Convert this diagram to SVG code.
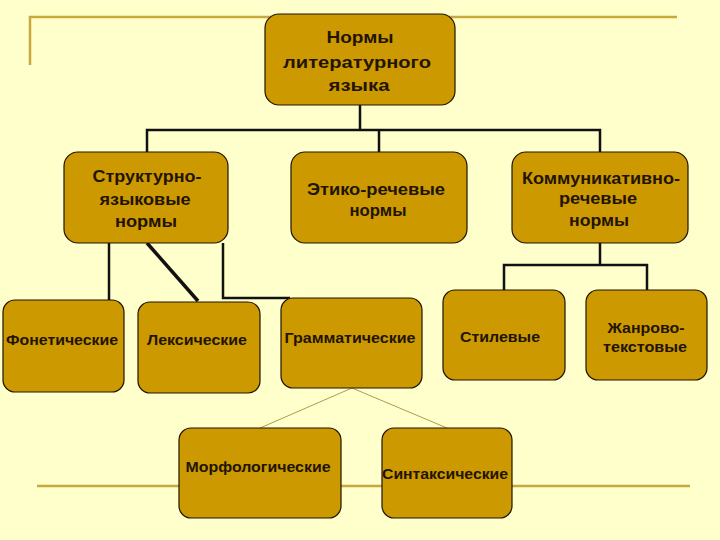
<svg xmlns="http://www.w3.org/2000/svg" width="720" height="540" viewBox="0 0 720 540">
<style>
.bg{fill:#FFFFCC}
.deco{stroke:#C9A93E;stroke-width:2.5;fill:none}
.box{fill:#CC9900;stroke:#1E1400;stroke-width:1.2}
.c{stroke:#111;stroke-width:2.5;fill:none}
.thin{stroke:#B09A50;stroke-width:1;fill:none}
text{font-family:"Liberation Sans",Arial,sans-serif;font-weight:bold;fill:#221400;text-anchor:middle}
.t16{font-size:16px}
.t15{font-size:15px}
</style>
<rect class="bg" x="0" y="0" width="720" height="540"/>
<g id="decor">
<path class="deco" d="M30,65 V17 H677"/>
<path class="deco" d="M37,486 H690"/>
</g>
<g id="connectors">
<path class="c" d="M360,105 V130 M147,152 V130 H600 V152 M379,130 V152"/>
<path class="c" d="M109,243 V301"/>
<path class="c" d="M147,243 L198,301" style="stroke-width:3.5"/>
<path class="c" d="M223,243 V298 H290"/>
<path class="c" d="M600,243 V265 M504,290 V265 H647 V290"/>
<path class="thin" d="M260,428 L352,388 L447,428"/>
</g>
<g id="n-root">
<rect class="box" x="265" y="14" width="190" height="91" rx="14"/>
<text class="t16" x="360" y="43" textLength="67" lengthAdjust="spacingAndGlyphs">Нормы</text>
<text class="t16" x="357" y="68" textLength="148" lengthAdjust="spacingAndGlyphs">литературного</text>
<text class="t16" x="359" y="91" textLength="61" lengthAdjust="spacingAndGlyphs">языка</text>
</g>
<g id="n-struct">
<rect class="box" x="64" y="152" width="164" height="91" rx="14"/>
<text class="t16" x="147" y="182" textLength="109" lengthAdjust="spacingAndGlyphs">Структурно-</text>
<text class="t16" x="145" y="205" textLength="91" lengthAdjust="spacingAndGlyphs">языковые</text>
<text class="t16" x="146" y="227" textLength="62" lengthAdjust="spacingAndGlyphs">нормы</text>
</g>
<g id="n-etiko">
<rect class="box" x="291" y="152" width="176" height="91" rx="14"/>
<text class="t16" x="376" y="195" textLength="138" lengthAdjust="spacingAndGlyphs">Этико-речевые</text>
<text class="t16" x="378" y="216" textLength="57" lengthAdjust="spacingAndGlyphs">нормы</text>
</g>
<g id="n-komm">
<rect class="box" x="512" y="152" width="176" height="91" rx="14"/>
<text class="t16" x="601" y="184" textLength="158" lengthAdjust="spacingAndGlyphs">Коммуникативно-</text>
<text class="t16" x="598" y="204" textLength="78" lengthAdjust="spacingAndGlyphs">речевые</text>
<text class="t16" x="599" y="226" textLength="60" lengthAdjust="spacingAndGlyphs">нормы</text>
</g>
<g id="n-fonet">
<rect class="box" x="3" y="300" width="121" height="92" rx="12"/>
<text class="t15" x="62" y="345" textLength="112" lengthAdjust="spacingAndGlyphs">Фонетические</text>
</g>
<g id="n-leks">
<rect class="box" x="138" y="302" width="122" height="91" rx="12"/>
<text class="t15" x="197" y="345" textLength="100" lengthAdjust="spacingAndGlyphs">Лексические</text>
</g>
<g id="n-gramm">
<rect class="box" x="281" y="298" width="141" height="90" rx="12"/>
<text class="t15" x="350" y="343" textLength="131" lengthAdjust="spacingAndGlyphs">Грамматические</text>
</g>
<g id="n-stil">
<rect class="box" x="443" y="290" width="122" height="90" rx="12"/>
<text class="t15" x="500" y="342" textLength="80" lengthAdjust="spacingAndGlyphs">Стилевые</text>
</g>
<g id="n-zhanr">
<rect class="box" x="586" y="290" width="121" height="90" rx="12"/>
<text class="t15" x="646" y="333" textLength="77" lengthAdjust="spacingAndGlyphs">Жанрово-</text>
<text class="t15" x="645" y="352" textLength="84" lengthAdjust="spacingAndGlyphs">текстовые</text>
</g>
<g id="n-morf">
<rect class="box" x="179" y="428" width="162" height="90" rx="12"/>
<text class="t15" x="258" y="472" textLength="145" lengthAdjust="spacingAndGlyphs">Морфологические</text>
</g>
<g id="n-sint">
<rect class="box" x="382" y="428" width="130" height="90" rx="12"/>
<text class="t15" x="445" y="479" textLength="126" lengthAdjust="spacingAndGlyphs">Синтаксические</text>
</g>
</svg>
